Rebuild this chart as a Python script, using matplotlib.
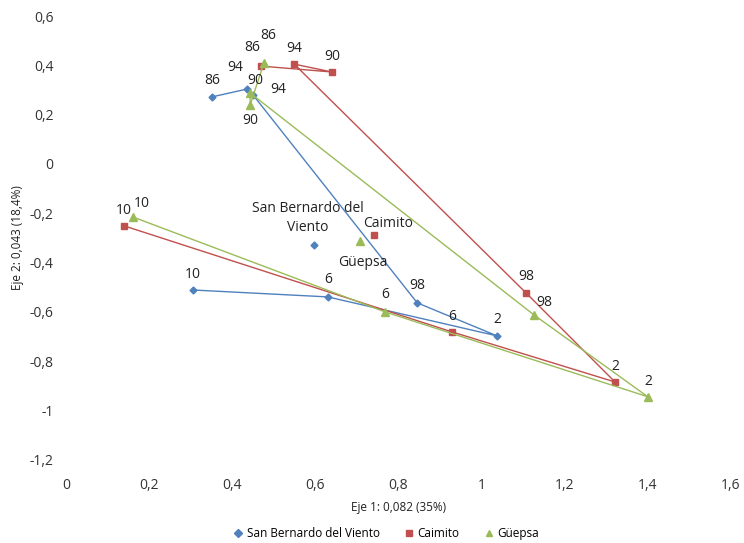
import matplotlib.pyplot as plt
from matplotlib.ticker import FuncFormatter, MultipleLocator

plt.rcParams['font.family'] = ['Open Sans', 'DejaVu Sans']

# Years of each survey point, joined in time order
years = ['86', '90', '94', '98', '2', '6', '10']

sbv_x = [0.351, 0.436, 0.450, 0.845, 1.037, 0.630, 0.306]
sbv_y = [0.272, 0.304, 0.280, -0.563, -0.697, -0.539, -0.511]
cai_x = [0.469, 0.640, 0.549, 1.107, 1.321, 0.929, 0.140]
cai_y = [0.397, 0.373, 0.405, -0.523, -0.884, -0.681, -0.251]
gue_x = [0.476, 0.443, 0.443, 1.126, 1.400, 0.768, 0.161]
gue_y = [0.409, 0.239, 0.288, -0.612, -0.944, -0.600, -0.215]

# Mean position of each municipality
center_names = ['San Bernardo del\nViento', 'Caimito', 'Güepsa']
center_x = [0.597, 0.741, 0.707]
center_y = [-0.328, -0.288, -0.312]

series = [
    ('San Bernardo del Viento', sbv_x, sbv_y, '#4F81BD', 'D', 3.5),
    ('Caimito', cai_x, cai_y, '#C0504D', 's', 5),
    ('Güepsa', gue_x, gue_y, '#9BBB59', '^', 5.5),
]

# label offsets in pixels (dx, dy up)
lab_off = {
    'San Bernardo del Viento': [(0, 16), (8, 9), (25, 5), (0, 17), (0, 16), (0, 17), (0, 16)],
    'Caimito': [(-9, 19), (0, 15), (0, 16), (0, 16), (0, 15), (0, 15), (0, 15)],
    'Güepsa': [(4, 28), (0, -15), (-15, 25), (10, 12), (0, 15), (0, 17), (9, 14)],
}
center_off = [(-6, 27), (14, 12), (3, -22)]

fig = plt.figure(figsize=(7.44, 5.43), dpi=100)
ax = fig.add_axes([0.0887, 0.153, 0.8938, 0.8175])

for i, (name, xs, ys, col, mk, ms) in enumerate(series):
    ax.plot(xs, ys, color=col, lw=1.0, marker=mk, ms=ms, mec=col, mfc=col,
            label=name)
    for yr, x, y, off in zip(years, xs, ys, lab_off[name]):
        ax.annotate(yr, (x, y), xytext=off, textcoords='offset pixels',
                    ha='center', va='center', fontsize=10, color='#222222')
    ax.plot(center_x[i], center_y[i], ls='none', marker=mk, ms=ms,
            color=col)
    ax.annotate(center_names[i], (center_x[i], center_y[i]),
                xytext=center_off[i], textcoords='offset pixels',
                ha='center', va='center', fontsize=10, color='#222222',
                linespacing=1.3)

ax.set_xlim(0, 1.6)
ax.set_ylim(-1.2, 0.6)
ax.xaxis.set_major_locator(MultipleLocator(0.2))
ax.yaxis.set_major_locator(MultipleLocator(0.2))
fmt = FuncFormatter(lambda v, p: f"{round(v, 2):g}".replace('.', ','))
ax.xaxis.set_major_formatter(fmt)
ax.yaxis.set_major_formatter(fmt)
ax.tick_params(length=0, labelsize=10, colors='#333333')
ax.tick_params(axis='x', pad=13)
ax.tick_params(axis='y', pad=9)
for s in ax.spines.values():
    s.set_visible(False)

ax.set_xlabel('Eje 1: 0,082 (35%)', fontsize=8.5, color='#222222', labelpad=6)
ax.set_ylabel('Eje 2: 0,043 (18,4%)', fontsize=8.5, color='#222222', labelpad=4)

leg = fig.legend(loc='center', bbox_to_anchor=(0.52, 0.018), ncol=3,
                 frameon=False, fontsize=8.5, handlelength=0.6,
                 columnspacing=2.2, handletextpad=0.4)
for h in leg.legend_handles:
    h.set_linestyle('none')
    h.set_markersize(4.5)

fig.savefig('out.png', dpi=100)
